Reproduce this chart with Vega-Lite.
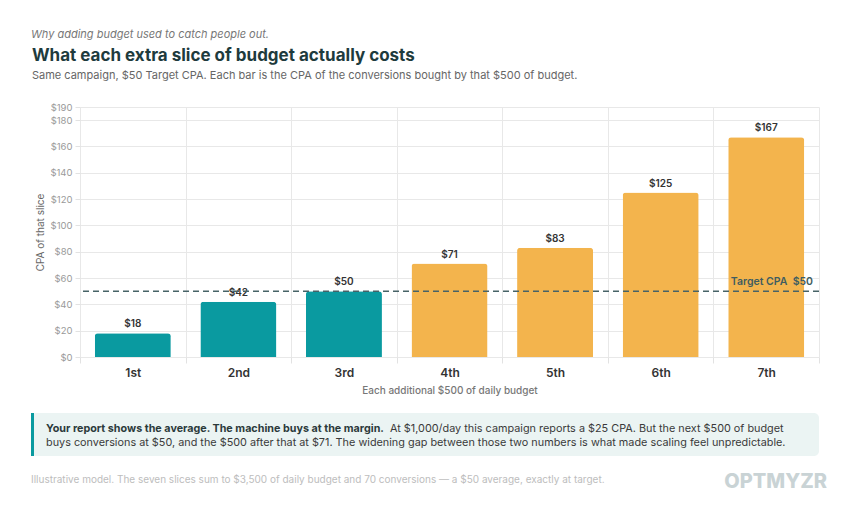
{
  "$schema": "https://vega.github.io/schema/vega-lite/v6.json",
  "background": "#ffffff",
  "padding": {"left": 30, "top": 29, "right": 0, "bottom": 0},
  "title": {
    "text": "Why adding budget used to catch people out.",
    "anchor": "start",
    "frame": "bounds",
    "font": "Inter",
    "fontStyle": "italic",
    "fontSize": 11,
    "fontWeight": "normal",
    "color": "#777777",
    "offset": 7
  },
  "spacing": 16,
  "vconcat": [
    {
      "width": 739,
      "height": 250,
      "title": {
        "text": "What each extra slice of budget actually costs",
        "subtitle": "Same campaign, $50 Target CPA. Each bar is the CPA of the conversions bought by that $500 of budget.",
        "anchor": "start",
        "frame": "bounds",
        "dx": -4,
        "font": "Inter",
        "fontSize": 17,
        "fontWeight": 700,
        "color": "#1e3b3d",
        "subtitleFont": "Inter",
        "subtitleFontSize": 11,
        "subtitleColor": "#666666",
        "subtitlePadding": 5,
        "offset": 20
      },
      "view": {"stroke": null},
      "data": {
        "values": [
          {"slice": "1st", "cpa": 18, "status": "at or under target"},
          {"slice": "2nd", "cpa": 42, "status": "at or under target"},
          {"slice": "3rd", "cpa": 50, "status": "at or under target"},
          {"slice": "4th", "cpa": 71, "status": "over target"},
          {"slice": "5th", "cpa": 83, "status": "over target"},
          {"slice": "6th", "cpa": 125, "status": "over target"},
          {"slice": "7th", "cpa": 167, "status": "over target"}
        ]
      },
      "layer": [
        {
          "mark": {
            "type": "bar",
            "width": {"band": 0.72},
            "cornerRadiusTopLeft": 3,
            "cornerRadiusTopRight": 3
          },
          "encoding": {
            "x": {
              "field": "slice",
              "type": "ordinal",
              "scale": {"domain": ["1st", "2nd", "3rd", "4th", "5th", "6th", "7th"], "paddingInner": 0, "paddingOuter": 0},
              "title": "Each additional $500 of daily budget",
              "axis": {
                "labelAngle": 0,
                "tickBand": "extent",
                "grid": true,
                "gridColor": "#e8e8e8",
                "domain": false,
                "ticks": true,
                "tickColor": "#e2e2e2",
                "tickSize": 6,
                "labelFont": "Inter",
                "labelFontSize": 12,
                "labelFontWeight": 600,
                "labelColor": "#333333",
                "labelPadding": 4,
                "titleFont": "Inter",
                "titleFontSize": 10,
                "titleFontWeight": 500,
                "titleColor": "#777777",
                "titlePadding": 7
              }
            },
            "y": {
              "field": "cpa",
              "type": "quantitative",
              "scale": {"domain": [0, 190], "nice": false},
              "title": "CPA of that slice",
              "axis": {
                "values": [0, 20, 40, 60, 80, 100, 120, 140, 160, 180, 190],
                "tickCount": 20,
                "format": "$.0f",
                "labelOverlap": false,
                "grid": true,
                "gridColor": "#e8e8e8",
                "domain": false,
                "tickColor": "#e2e2e2",
                "tickSize": 5,
                "labelFont": "Inter",
                "labelFontSize": 9.5,
                "labelColor": "#9a9a9a",
                "labelPadding": 3,
                "titleFont": "Inter",
                "titleFontSize": 10,
                "titleFontWeight": "normal",
                "titleColor": "#666666",
                "titlePadding": 4
              }
            },
            "color": {
              "field": "status",
              "type": "nominal",
              "scale": {"domain": ["at or under target", "over target"], "range": ["#0a9aa0", "#f3b44d"]},
              "legend": null
            }
          }
        },
        {
          "mark": {
            "type": "text",
            "baseline": "bottom",
            "dy": -4,
            "font": "Inter",
            "fontSize": 10,
            "fontWeight": 600,
            "color": "#333333"
          },
          "encoding": {
            "x": {"field": "slice", "type": "ordinal"},
            "y": {"field": "cpa", "type": "quantitative"},
            "text": {"field": "cpa", "type": "quantitative", "format": "$.0f"}
          }
        },
        {
          "data": {"values": [{"target": 50}]},
          "mark": {"type": "rule", "color": "#476367", "strokeWidth": 1.6, "strokeDash": [6, 4]},
          "encoding": {
            "y": {"field": "target", "type": "quantitative"}
          }
        },
        {
          "data": {"values": [{"target": 50, "slice": "7th", "label": "Target CPA\u00a0\u00a0$50"}]},
          "mark": {
            "type": "text",
            "align": "right",
            "baseline": "bottom",
            "dx": -6,
            "dy": -4,
            "font": "Inter",
            "fontSize": 10.5,
            "fontWeight": 600,
            "color": "#3f5d60"
          },
          "encoding": {
            "x": {"field": "slice", "type": "ordinal", "bandPosition": 1},
            "y": {"field": "target", "type": "quantitative"},
            "text": {"field": "label"}
          }
        }
      ]
    },
    {
      "spacing": 10,
      "vconcat": [
        {
          "width": 739,
          "height": 43,
          "view": {"stroke": null},
          "layer": [
            {
              "data": {"values": [{"x0": -49, "x1": 739, "y0": 0, "y1": 43}]},
              "mark": {"type": "rect", "color": "#ebf4f3", "cornerRadius": 5},
              "encoding": {
                "x": {"field": "x0", "type": "quantitative", "scale": {"domain": [0, 739], "nice": false, "zero": false}, "axis": null},
                "x2": {"field": "x1"},
                "y": {"field": "y0", "type": "quantitative", "scale": {"domain": [43, 0], "nice": false, "zero": false}, "axis": null},
                "y2": {"field": "y1"}
              }
            },
            {
              "data": {"values": [{"x0": -47.5, "y0": 0, "y1": 43}]},
              "mark": {"type": "rule", "color": "#0a9aa0", "strokeWidth": 3},
              "encoding": {
                "x": {"field": "x0", "type": "quantitative"},
                "y": {"field": "y0", "type": "quantitative"},
                "y2": {"field": "y1"}
              }
            },
            {
              "data": {"values": [{"pos": -34, "row": 16, "text": "Your report shows the average. The machine buys at the margin."}]},
              "mark": {"type": "text", "align": "left", "baseline": "middle", "font": "Inter", "fontSize": 10.75, "fontWeight": 700, "color": "#2b3a3b"},
              "encoding": {
                "x": {"field": "pos", "type": "quantitative"},
                "y": {"field": "row", "type": "quantitative"},
                "text": {"field": "text"}
              }
            },
            {
              "data": {
                "values": [
                  {"pos": 310, "row": 16, "text": "At $1,000/day this campaign reports a $25 CPA. But the next $500 of budget"},
                  {"pos": -34, "row": 30, "text": "buys conversions at $50, and the $500 after that at $71. The widening gap between those two numbers is what made scaling feel unpredictable."}
                ]
              },
              "mark": {"type": "text", "align": "left", "baseline": "middle", "font": "Inter", "fontSize": 10.85, "fontWeight": "normal", "color": "#3a3a3a"},
              "encoding": {
                "x": {"field": "pos", "type": "quantitative"},
                "y": {"field": "row", "type": "quantitative"},
                "text": {"field": "text"}
              }
            }
          ]
        },
        {
          "width": 739,
          "height": 24,
          "view": {"stroke": null},
          "data": {
            "values": [
              {"pos": -49, "row": 12, "kind": "note", "text": "Illustrative model. The seven slices sum to $3,500 of daily budget and 70 conversions \u2014 a $50 average, exactly at target."},
              {"pos": 747, "row": 14, "kind": "logo", "text": "OPTMYZR"}
            ]
          },
          "layer": [
            {
              "transform": [{"filter": "datum.kind === 'note'"}],
              "mark": {"type": "text", "align": "left", "baseline": "middle", "font": "Inter", "fontSize": 10, "color": "#bdbdbd"},
              "encoding": {
                "x": {"field": "pos", "type": "quantitative", "scale": {"domain": [0, 739], "nice": false, "zero": false}, "axis": null},
                "y": {"field": "row", "type": "quantitative", "scale": {"domain": [24, 0], "nice": false, "zero": false}, "axis": null},
                "text": {"field": "text"}
              }
            },
            {
              "transform": [{"filter": "datum.kind === 'logo'"}],
              "mark": {"type": "text", "align": "right", "baseline": "middle", "font": "Inter", "fontSize": 20, "fontWeight": 800, "color": "#c9d3d5"},
              "encoding": {
                "x": {"field": "pos", "type": "quantitative"},
                "y": {"field": "row", "type": "quantitative"},
                "text": {"field": "text"}
              }
            }
          ]
        }
      ]
    }
  ]
}
